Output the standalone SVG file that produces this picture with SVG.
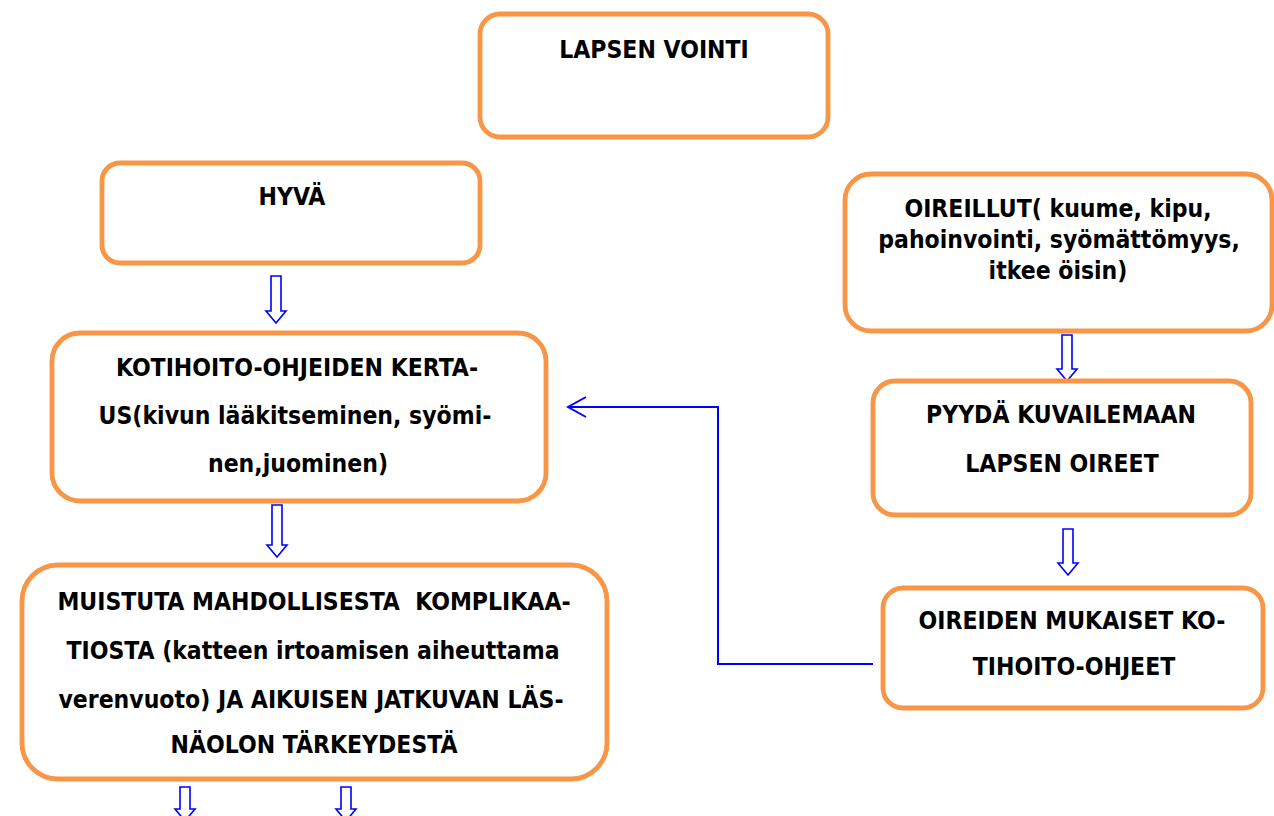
<svg xmlns="http://www.w3.org/2000/svg" width="1274" height="816" viewBox="0 0 1274 816">
<defs>
<style>
.box{fill:#fff;stroke:#F79646;stroke-width:4.8}
.t{font-family:"DejaVu Sans",Verdana,sans-serif;font-stretch:condensed;font-weight:bold;font-size:24.5px;fill:#000;text-anchor:middle}
.blk{fill:#fff;stroke:#0000FF;stroke-width:1.6;stroke-linejoin:miter}
.con{fill:none;stroke:#0000FF;stroke-width:2}
</style>
<marker id="open" markerUnits="userSpaceOnUse" markerWidth="24" markerHeight="24" viewBox="0 0 24 24" refX="22" refY="12" orient="auto">
<path d="M4,2 L22,12 L4,22" fill="none" stroke="#0000FF" stroke-width="2"/>
</marker>
</defs>
<rect width="1274" height="816" fill="#fff"/>

<g id="connectors">
<path class="con" d="M873,664 H718 V407 H568" marker-end="url(#open)"/>
<path class="blk" d="M271,276 H281 V311 H286 L276,323 L266,311 H271 Z"/>
<path class="blk" d="M272,505 H282 V545 H287 L277,557 L267,545 H272 Z"/>
<path class="blk" d="M1062,335 H1072 V369 H1077 L1067,381 L1057,369 H1062 Z"/>
<path class="blk" d="M1063,529 H1073 V563 H1078 L1068,575 L1058,563 H1063 Z"/>
<path class="blk" d="M180,787 H190 V809 H195 L185,821 L175,809 H180 Z"/>
<path class="blk" d="M341,787 H351 V809 H356 L346,821 L336,809 H341 Z"/>
</g>

<g id="lapsen-vointi">
<rect class="box" x="480" y="14" width="348" height="123" rx="20"/>
<text class="t" x="654" y="58">LAPSEN VOINTI</text>
</g>

<g id="hyva">
<rect class="box" x="102" y="163" width="378" height="100" rx="18"/>
<text class="t" x="292" y="205">HYVÄ</text>
</g>

<g id="oireillut">
<rect class="box" x="845" y="174" width="427" height="157" rx="26"/>
<text class="t" x="1058" y="217">OIREILLUT( kuume, kipu,</text>
<text class="t" x="1059" y="248">pahoinvointi, syömättömyys,</text>
<text class="t" x="1058" y="279">itkee öisin)</text>
</g>

<g id="kotihoito">
<rect class="box" x="52" y="333" width="494" height="168" rx="28"/>
<text class="t" x="297" y="376">KOTIHOITO-OHJEIDEN KERTA-</text>
<text class="t" x="295" y="424">US(kivun lääkitseminen, syömi-</text>
<text class="t" x="298" y="472">nen,juominen)</text>
</g>

<g id="pyyda">
<rect class="box" x="873" y="381" width="378" height="134" rx="22"/>
<text class="t" x="1061" y="423">PYYDÄ KUVAILEMAAN</text>
<text class="t" x="1062" y="472">LAPSEN OIREET</text>
</g>

<g id="oireiden-mukaiset">
<rect class="box" x="883" y="588" width="380" height="120" rx="20"/>
<text class="t" x="1072" y="629">OIREIDEN MUKAISET KO-</text>
<text class="t" x="1074" y="675">TIHOITO-OHJEET</text>
</g>

<g id="muistuta">
<rect class="box" x="22" y="565" width="585" height="214" rx="36"/>
<text class="t" x="314" y="610" xml:space="preserve">MUISTUTA MAHDOLLISESTA  KOMPLIKAA-</text>
<text class="t" x="313" y="659">TIOSTA (katteen irtoamisen aiheuttama</text>
<text class="t" x="311" y="708">verenvuoto) JA AIKUISEN JATKUVAN LÄS-</text>
<text class="t" x="314" y="753">NÄOLON TÄRKEYDESTÄ</text>
</g>
</svg>
